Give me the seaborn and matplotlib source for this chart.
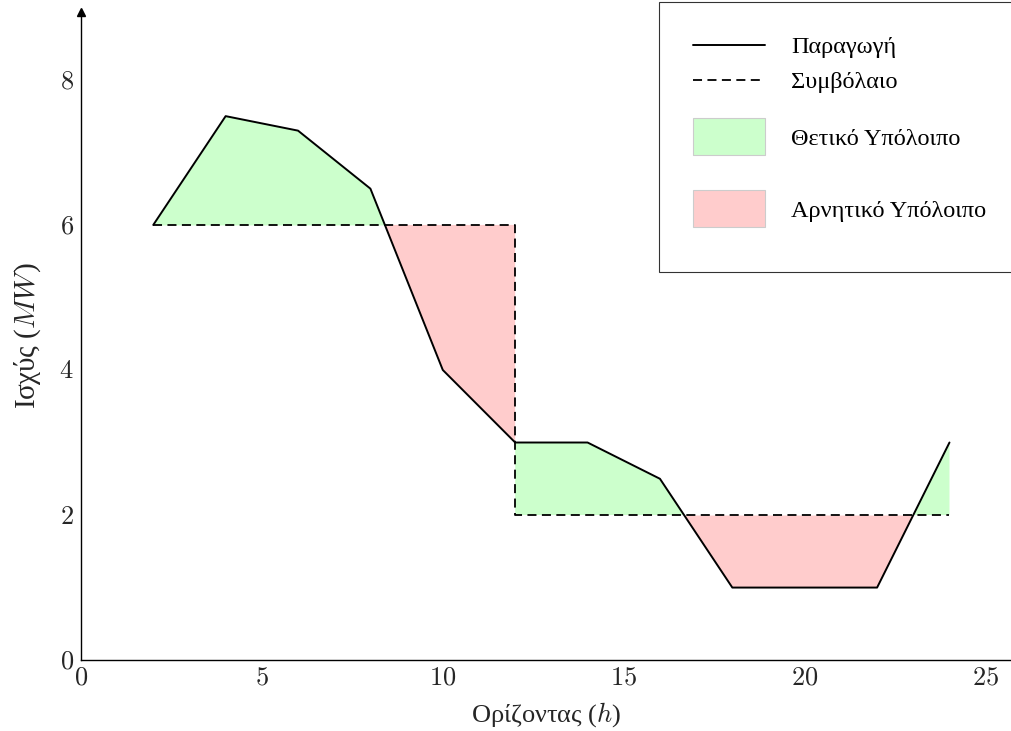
import numpy as np
import matplotlib
matplotlib.use("Agg")
import matplotlib.pyplot as plt
import seaborn as sns
from matplotlib.lines import Line2D
from matplotlib.patches import Patch, Rectangle
from matplotlib.legend_handler import HandlerPatch

# data
hours = [2, 4, 6, 8, 10, 12, 14, 16, 18, 20, 22, 24]
production = [6, 7.5, 7.3, 6.5, 4, 3, 3, 2.5, 1, 1, 1, 3]
contract_hours = [2, 12, 12, 24]
contract_power = [6, 6, 2, 2]
x_ticks = [0, 5, 10, 15, 20, 25]
y_ticks = [0, 2, 4, 6, 8]
legend_labels = ["Παραγωγή", "Συμβόλαιο", "Θετικό Υπόλοιπο", "Αρνητικό Υπόλοιπο"]

green = "#ccffcc"
red = "#ffcccc"

sns.set_theme(style="white")
plt.rcParams["font.family"] = ["Liberation Serif", "DejaVu Serif"]
plt.rcParams["mathtext.fontset"] = "cm"

fig = plt.figure(figsize=(10.11, 7.31), dpi=100)
ax = fig.add_axes([0.080, 0.097, 0.920, 0.887])

# fills between production and contract (one segment per contract level)
hrs = np.array(hours, dtype=float)
prod = np.array(production, dtype=float)
for i in range(0, len(contract_hours), 2):
    h0, h1 = contract_hours[i], contract_hours[i + 1]
    level = contract_power[i]
    m = (hrs >= h0) & (hrs <= h1)
    c = np.full(m.sum(), level, dtype=float)
    ax.fill_between(hrs[m], prod[m], c, where=prod[m] >= c, interpolate=True,
                    color=green, linewidth=0)
    ax.fill_between(hrs[m], prod[m], c, where=prod[m] <= c, interpolate=True,
                    color=red, linewidth=0)

sns.lineplot(x=contract_hours, y=contract_power, estimator=None, sort=False,
             color="black", lw=1.3, linestyle=(0, (5, 3)), ax=ax)
sns.lineplot(x=hours, y=production, estimator=None, sort=False,
             color="black", lw=1.4, ax=ax)

ax.set_xlim(0, 25.7)
ax.set_ylim(0, 8.94)
ax.set_xticks(x_ticks, [f"${v}$" for v in x_ticks], fontsize=19)
ax.set_yticks(y_ticks, [f"${v}$" for v in y_ticks], fontsize=19)
ax.tick_params(length=0, pad=5)
for s in ["top", "right"]:
    ax.spines[s].set_visible(False)
for s in ["left", "bottom"]:
    ax.spines[s].set_color("black")
    ax.spines[s].set_linewidth(1.0)
ax.plot(0, 1, marker="^", color="black", markersize=6,
        transform=ax.get_xaxis_transform(), clip_on=False)

ax.set_xlabel("Ορίζοντας ($h$)", fontsize=19, labelpad=8)
ax.set_ylabel("Ισχύς ($MW$)", fontsize=21, labelpad=12)


# legend patches are taller and get more room than the line entries
class TallPatchHandler(HandlerPatch):
    def legend_artist(self, legend, orig_handle, fontsize, handlebox):
        extra = 30
        handlebox.height += extra
        handlebox.ydescent += extra / 2
        return super().legend_artist(legend, orig_handle, fontsize, handlebox)

    def create_artists(self, legend, orig_handle, xdescent, ydescent,
                       width, height, fontsize, trans):
        h = 26.6
        r = Rectangle((-xdescent, -ydescent + (height - h) / 2), width, h,
                      facecolor=orig_handle.get_facecolor(),
                      edgecolor="#cccccc", lw=0.8, transform=trans)
        return [r]


handles = [
    Line2D([], [], color="black", lw=1.4),
    Line2D([], [], color="black", lw=1.3, linestyle=(0, (5, 3))),
    Patch(facecolor=green),
    Patch(facecolor=red),
]
leg = fig.legend(handles, legend_labels, loc="upper left",
                 bbox_to_anchor=(659 / 1011, 1 - 2 / 731),
                 fontsize=17.5, frameon=True, fancybox=False,
                 handlelength=2.95, handletextpad=1.1, labelspacing=0.55,
                 borderpad=1.4, borderaxespad=0,
                 handler_map={Patch: TallPatchHandler()})
leg.get_frame().set_edgecolor("black")
leg.get_frame().set_linewidth(0.8)
for t in leg.get_texts():
    t.set_color("black")

fig.savefig("out.png", dpi=100)
